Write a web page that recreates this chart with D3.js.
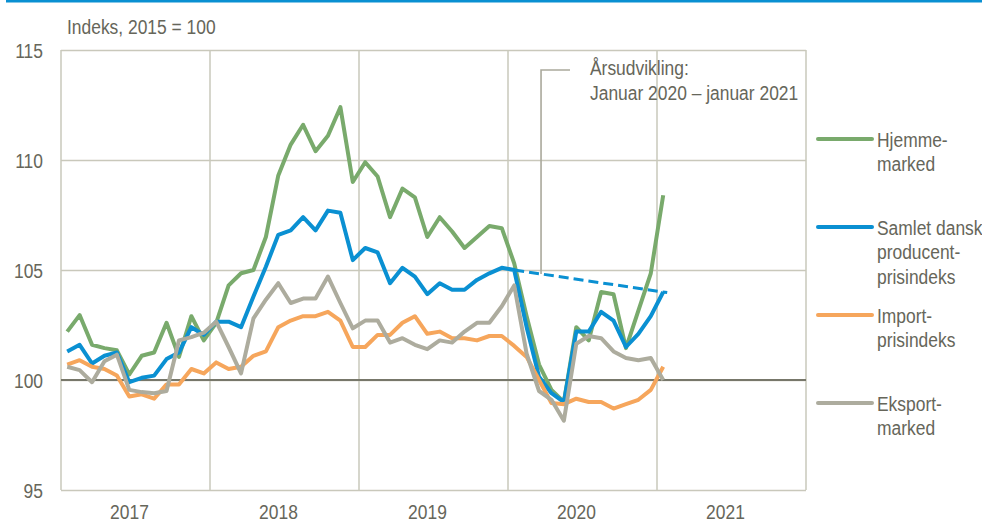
<!DOCTYPE html>
<html><head><meta charset="utf-8">
<script src="https://cdn.jsdelivr.net/npm/d3@7"></script>
<style>
html,body{margin:0;padding:0;background:#fff;}
svg{display:block;}
text{font-family:"Liberation Sans",Arial,sans-serif;fill:#66665a;}
</style></head>
<body>
<svg id="chart" width="982" height="524"></svg>
<script>
// ---- data (monthly, Jan 2017 – Jan 2021) ----
const years = [2017, 2018, 2019, 2020, 2021];
const yTicks = [95, 100, 105, 110, 115];

const hjemmemarked = [
  102.2, 102.95, 101.6, 101.45, 101.35, 100.25, 101.1, 101.25, 102.6, 101.05, 102.9, 101.8,
  102.6, 104.3, 104.85, 105.0, 106.5, 109.3, 110.7, 111.6, 110.4, 111.1, 112.4, 109.0,
  109.9, 109.25, 107.4, 108.7, 108.3, 106.5, 107.4, 106.75, 106.0, 106.5, 107.0, 106.9,
  105.3, 102.9, 100.7, 99.55, 99.0, 102.4, 101.8, 104.0, 103.9, 101.45, 103.15, 104.85,
  108.4
];
const samlet = [
  101.3, 101.6, 100.75, 101.1, 101.25, 99.9, 100.1, 100.2, 100.95, 101.25, 102.4, 102.05,
  102.65, 102.65, 102.4, 103.8, 105.15, 106.6, 106.8, 107.4, 106.8, 107.7, 107.6, 105.45,
  106.0, 105.8, 104.4, 105.1, 104.7, 103.9, 104.4, 104.1, 104.1, 104.55, 104.85, 105.1,
  105.0, 102.4, 100.15, 99.4, 99.0, 102.2, 102.2, 103.1, 102.7, 101.5, 102.1, 102.9,
  104.0
];
const importIdx = [
  100.7, 100.9, 100.6, 100.5, 100.2, 99.25, 99.35, 99.15, 99.8, 99.8, 100.5, 100.3,
  100.8, 100.5, 100.6, 101.1, 101.3, 102.4, 102.7, 102.9, 102.9, 103.1, 102.7, 101.5,
  101.5, 102.05, 102.05, 102.6, 102.9, 102.1, 102.2, 101.9, 101.9, 101.8, 102.0, 102.0,
  101.55, 101.05, 100.0, 98.95, 98.9, 99.15, 99.0, 99.0, 98.7, 98.9, 99.1, 99.55,
  100.6
];
const eksport = [
  100.6, 100.45, 99.9, 100.85, 101.15, 99.55, 99.45, 99.4, 99.5, 101.8, 101.95, 102.15,
  102.65, 101.5, 100.3, 102.8, 103.65, 104.4, 103.5, 103.7, 103.7, 104.7, 103.5, 102.35,
  102.7, 102.7, 101.7, 101.9, 101.6, 101.4, 101.8, 101.7, 102.2, 102.6, 102.6, 103.35,
  104.3, 101.2, 99.5, 99.1, 98.15, 101.65, 102.0, 101.9, 101.3, 101.0, 100.9, 101.0,
  100.0
];
// year-on-year trend: Jan 2020 -> Jan 2021 (overall index)
const trendMonths = [36, 48];

const seriesNames = [["Hjemme-", "marked"], ["Samlet dansk", "producent-", "prisindeks"], ["Import-", "prisindeks"], ["Eksport-", "marked"]];
const seriesColors = ["#79aa6c", "#0a90d2", "#f6a65c", "#adac9e"];
const seriesData = [hjemmemarked, samlet, importIdx, eksport];
const drawOrder = [0, 1, 2, 3];
const titleText = "Indeks, 2015 = 100";
const annoLines = ["Årsudvikling:", "Januar 2020 – januar 2021"];

// ---- layout ----
const svg = d3.select("#chart");
const L = 61, R = 806, T = 50, B = 490;
const nMonths = years.length * 12;
const SX = 0.83; // horizontal condensing (narrow typeface look)

const x = d3.scaleLinear().domain([0, nMonths]).range([L, R]);
const y = d3.scaleLinear().domain([95, 115]).range([B, T]);
const xm = i => x(i + 0.5);

function ntext(parent, tx, ty, str, size, anchor) {
  return parent.append("text")
    .attr("transform", `translate(${tx},${ty}) scale(${SX},1)`)
    .attr("font-size", size).attr("text-anchor", anchor || "start").text(str);
}

// top rule
svg.append("line").attr("x1", 6).attr("x2", 982).attr("y1", 1.2).attr("y2", 1.2)
  .attr("stroke", "#0a90d2").attr("stroke-width", 2.4);

const gridCol = "#c9c8bb";
// horizontal grid
const yAxis = d3.axisLeft(y).tickValues(yTicks).tickSize(-(R - L)).tickFormat("");
const gy = svg.append("g").attr("transform", `translate(${L},0)`).call(yAxis);
gy.select(".domain").remove();
gy.selectAll(".tick line").attr("stroke", gridCol).attr("stroke-width", 1.5);
gy.selectAll(".tick text").remove();
// y labels
const gyl = svg.append("g");
yTicks.forEach(v => ntext(gyl, 43, y(v) + 7.5, d3.format("d")(v), 21, "end"));

// vertical grid (year boundaries)
const yearBounds = d3.range(years.length + 1).map(i => i * 12);
svg.append("g").selectAll("line").data(yearBounds).join("line")
  .attr("x1", d => x(d)).attr("x2", d => x(d)).attr("y1", T).attr("y2", B)
  .attr("stroke", gridCol).attr("stroke-width", 1.5);
// 100 reference line
svg.append("line").attr("x1", L).attr("x2", R).attr("y1", y(100)).attr("y2", y(100)).attr("stroke", "#77776a").attr("stroke-width", 2);

// year labels
const gx = svg.append("g");
years.forEach((d, i) => ntext(gx, x(i * 12 + 6) - 6, 519, d, 21, "middle"));

// title
ntext(svg, 67, 34, titleText, 21);

// lines
const line = d3.line().x((d, i) => xm(i)).y(d => y(d));
drawOrder.forEach(k => {
  svg.append("path").datum(seriesData[k]).attr("d", line)
    .attr("fill", "none").attr("stroke", seriesColors[k]).attr("stroke-width", 4)
    .attr("stroke-linejoin", "round").attr("stroke-linecap", "butt");
});

// trend dashed line
const t0 = trendMonths[0], t1 = trendMonths[1];
const slope = (y(samlet[t1]) - y(samlet[t0])) / (xm(t1) - xm(t0));
const tx0 = xm(t0), ty0 = y(samlet[t0]), tx1 = xm(t1) + 4, ty1 = y(samlet[t1]) + slope * 4;
svg.append("line").attr("x1", tx0).attr("y1", ty0).attr("x2", tx1).attr("y2", ty1)
  .attr("stroke", "#0a90d2").attr("stroke-width", 3).attr("stroke-dasharray", "10,5");

// callout
const ax = xm(t0 + 2) + 2;
const ay = ty0 + (ax - tx0) * slope;
svg.append("path").attr("d", `M${ax + 29},70 H${ax} V${ay}`)
  .attr("fill", "none").attr("stroke", "#aaa99c").attr("stroke-width", 1.6);
const ga = svg.append("g");
annoLines.forEach((d, i) => ntext(ga, 590, 75 + i * 25, d, 21));

// legend
const legY = [139, 227, 315, 403];
seriesNames.forEach((names, k) => {
  const g = svg.append("g");
  g.append("line").attr("x1", 818).attr("x2", 872).attr("y1", legY[k]).attr("y2", legY[k])
    .attr("stroke", seriesColors[k]).attr("stroke-width", 4).attr("stroke-linecap", "round");
  names.forEach((d, i) => ntext(g, 877, legY[k] + 7.5 + i * 24.5, d, 21));
});
</script>
</body></html>
